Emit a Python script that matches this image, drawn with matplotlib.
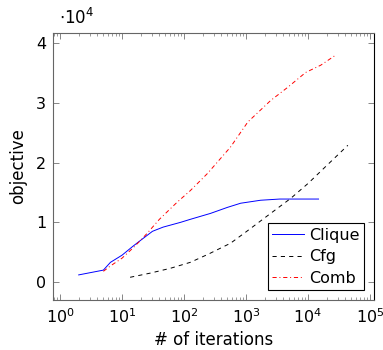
import matplotlib
matplotlib.use("Agg")
import matplotlib.pyplot as plt
from matplotlib.ticker import LogLocator, FixedLocator, NullFormatter

plt.rcParams["mathtext.fontset"] = "dejavusans"
plt.rcParams["lines.scale_dashes"] = False
plt.rcParams["font.family"] = ["DejaVu Sans"]

# values (objective in units of 1e4)
clique_x = [2, 5, 6.5, 10, 15, 20, 31, 46, 88, 126, 268, 500, 820, 1720, 3500, 14800]
clique_y = [0.12, 0.20, 0.33, 0.45, 0.60, 0.70, 0.85, 0.92, 1.00, 1.05, 1.15, 1.25, 1.32, 1.37, 1.39, 1.39]

cfg_x = [13.5, 28.6, 60, 126, 250, 562, 1000, 2500, 5250, 10000, 20000, 44000]
cfg_y = [0.08, 0.15, 0.23, 0.33, 0.47, 0.65, 0.84, 1.15, 1.40, 1.65, 1.95, 2.29]

comb_x = [5, 6.5, 10, 15, 20, 25.6, 40, 78, 126, 184, 240, 562, 1070, 2500, 4700, 9200, 16000, 28000]
comb_y = [0.18, 0.27, 0.40, 0.57, 0.70, 0.82, 1.05, 1.34, 1.53, 1.70, 1.82, 2.26, 2.68, 3.04, 3.26, 3.51, 3.63, 3.80]

y_ticks = [0, 1, 2, 3, 4]
x_ticks = [1, 10, 100, 1000, 10000, 100000]

fig = plt.figure(figsize=(3.83, 3.5), dpi=100)
ax = fig.add_axes([0.1384, 0.1429, 0.838, 0.7628])

ax.plot(clique_x, clique_y, color="blue", lw=0.7, label="Clique")
ax.plot(cfg_x, cfg_y, color="black", lw=0.7, dashes=(3, 3), label="Cfg")
ax.plot(comb_x, comb_y, color="red", lw=0.7, dashes=(3, 2, 0.7, 2), label="Comb")

ax.set_xscale("log")
ax.set_xlim(0.77, 116000)
ax.set_ylim(-0.30, 4.17)
ax.xaxis.set_major_locator(FixedLocator(x_ticks))
ax.set_xticklabels([r"$10^{%d}$" % i for i in range(6)])
ax.xaxis.set_minor_locator(LogLocator(base=10, subs=range(2, 10), numticks=20))
ax.xaxis.set_minor_formatter(NullFormatter())
ax.set_yticks(y_ticks)
ax.set_yticklabels([str(v) for v in y_ticks])

ax.tick_params(axis="both", which="both", direction="in", top=True, right=True,
               color="0.45", labelsize=11.5)
ax.tick_params(axis="both", which="major", length=4, width=0.6, pad=5)
ax.tick_params(axis="x", which="minor", length=2.2, width=0.5)
for s in ax.spines.values():
    s.set_linewidth(0.8)
    s.set_color("0.4")
ax.spines["right"].set_color("black")

ax.set_xlabel("# of iterations", fontsize=12, labelpad=4)
ax.set_ylabel("objective", fontsize=12, labelpad=6)
ax.text(0.02, 1.02, r"$\cdot 10^{4}$", transform=ax.transAxes, fontsize=12,
        ha="left", va="bottom")

leg = ax.legend(loc="lower right", fontsize=11.5, frameon=True, fancybox=False,
                edgecolor="black", framealpha=1, handlelength=2.0,
                handletextpad=0.3, borderpad=0.3, labelspacing=0.4,
                borderaxespad=0.6)
leg.get_frame().set_linewidth(0.8)

fig.savefig("out.png", dpi=100)
